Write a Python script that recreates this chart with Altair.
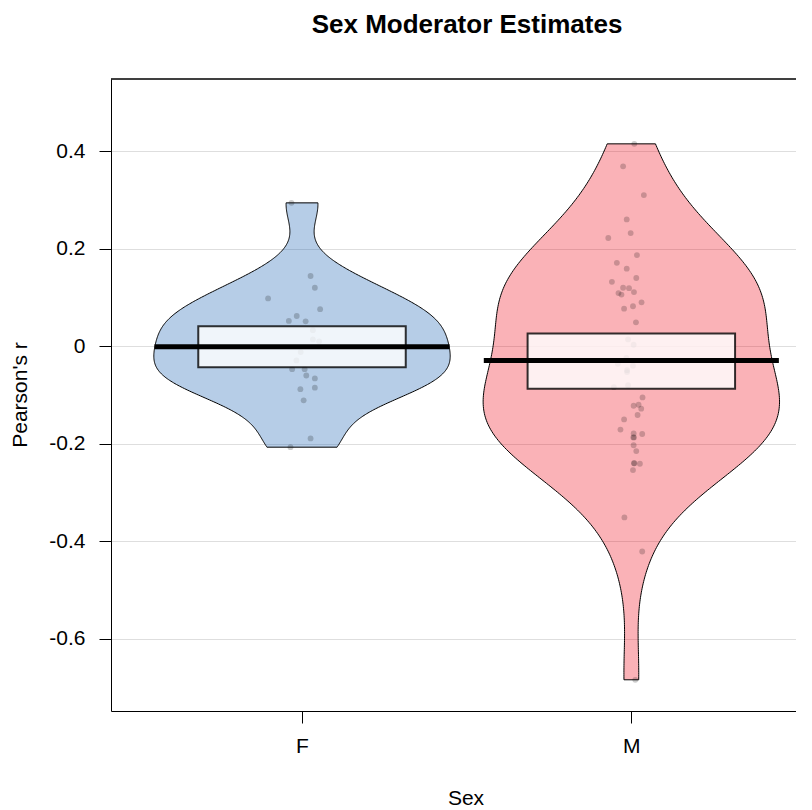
import altair as alt
import pandas as pd
import numpy as np

# ---- data ----
categories = ["F", "M"]
centers = [1, 2]
chart_title = ["Sex Moderator Estimates"]
x_title = ["Sex"]
y_title = ["Pearson's r"]

f_r = [0.294, 0.144, 0.120, 0.098, 0.076, 0.052, 0.062, 0.051, 0.033, 0.014, 0.010,
       -0.012, -0.029, -0.047, -0.047, -0.060, -0.066, -0.085, -0.088, -0.111, -0.189, -0.207]
f_jit = [-0.032, 0.026, 0.039, -0.103, 0.055, -0.040, -0.016, 0.011, 0.033, 0.033, 0.052,
         -0.004, -0.017, -0.030, 0.008, 0.013, 0.039, 0.039, -0.005, 0.005, 0.026, -0.035]

m_r = [0.415, 0.369, 0.310, 0.260, 0.232, 0.222, 0.187, 0.171, 0.159, 0.140, 0.132, 0.120,
       0.119, 0.111, 0.109, 0.106, 0.090, 0.082, 0.077, 0.049, 0.014, 0.003, -0.024, -0.036,
       -0.040, -0.049, -0.053, -0.084, -0.080, -0.105, -0.122, -0.120, -0.128, -0.141, -0.150,
       -0.171, -0.179, -0.187, -0.187, -0.180, -0.203, -0.215, -0.240, -0.240, -0.241, -0.254,
       -0.351, -0.421, -0.684]
m_jit = [0.009, -0.025, 0.038, -0.014, -0.002, -0.070, 0.017, -0.044, -0.014, 0.015, -0.059,
         -0.025, -0.007, 0.008, -0.039, -0.030, 0.031, 0.005, -0.022, 0.014, -0.010, 0.007,
         -0.015, -0.041, 0.005, -0.013, -0.013, -0.053, -0.010, 0.034, 0.007, 0.022, 0.030,
         0.019, -0.022, -0.033, 0.007, 0.008, 0.006, 0.033, 0.007, 0.015, 0.009, 0.008, 0.026,
         0.005, -0.021, 0.033, 0.012]

mean_vals = [-0.001, -0.029]
band_lo = [-0.043, -0.087]
band_hi = [0.041, 0.026]

y_ticks = [-0.6, -0.4, -0.2, 0, 0.2, 0.4]

bean_colors = ["#0C5BB0", "#EE0011"]
bw_adjust = [1.1, 1.15]

# ---- layout ----
W, H = 685, 632
XDOM = [0.42, 2.5]
YDOM = [-0.748, 0.548]
FONT = "Liberation Sans"

xscale = alt.Scale(domain=XDOM, nice=False, zero=False)
yscale = alt.Scale(domain=YDOM, nice=False, zero=False)

label_expr = " : ".join(
    [f"datum.value == {c} ? '{n}'" for c, n in zip(centers, categories)]) + " : ''"

x_axis = alt.Axis(values=centers, labelExpr=label_expr, title=None, grid=False,
                  tickSize=12, tickColor="black", domainColor="black", domainWidth=1,
                  labelFontSize=21, labelFont=FONT, labelColor="black", labelPadding=12)
y_axis = alt.Axis(values=y_ticks, labelExpr="'' + datum.value", title=None,
                  grid=True, gridColor="#DEDEDE", gridWidth=1,
                  tickSize=12, tickColor="black", domainColor="black", domainWidth=1,
                  labelFontSize=21, labelFont=FONT, labelColor="black", labelPadding=14)

pts = pd.DataFrame({
    "sex": ["F"] * len(f_r) + ["M"] * len(m_r),
    "r": f_r + m_r,
    "xpos": [centers[0] + j for j in f_jit] + [centers[1] + j for j in m_jit],
})


def nrd0(x):
    x = np.asarray(x)
    sd = np.std(x, ddof=1)
    iqr = np.quantile(x, 0.75) - np.quantile(x, 0.25)
    lo = min(sd, iqr / 1.34)
    return float(0.9 * lo * len(x) ** -0.2)


def X(field):
    return alt.X(field, scale=xscale, axis=x_axis)


def Y(field):
    return alt.Y(field, scale=yscale, axis=y_axis)


base = alt.Chart(pts)

layers = []
for cat, c, vals, col, adj in zip(categories, centers, [f_r, m_r], bean_colors, bw_adjust):
    bean = (
        base.transform_filter(alt.datum.sex == cat)
        .transform_density("r", as_=["r", "density"], bandwidth=nrd0(vals) * adj,
                           extent=[min(vals), max(vals)], steps=300)
        .transform_joinaggregate(dmax="max(density)")
        .transform_calculate(
            left=f"{c} - 0.45 * datum.density / datum.dmax",
            right=f"{c} + 0.45 * datum.density / datum.dmax",
        )
        .mark_area(orient="horizontal", fill=col, fillOpacity=0.3,
                   stroke="black", strokeWidth=1)
        .encode(y=Y("r:Q"), x=X("left:Q"), x2="right:Q")
    )
    layers.append(bean)

points = base.mark_circle(size=34, color="black", opacity=0.2).encode(
    x=X("xpos:Q"), y=Y("r:Q"),
)
layers.append(points)

summ = pd.DataFrame({
    "sex": categories, "c": centers, "mean": mean_vals, "lo": band_lo, "hi": band_hi,
})
summ["bx1"] = summ["c"] - 0.315
summ["bx2"] = summ["c"] + 0.315
summ["mx1"] = summ["c"] - 0.448
summ["mx2"] = summ["c"] + 0.448

sbase = alt.Chart(summ)
box = sbase.mark_rect(fill="white", fillOpacity=0.8, stroke="black", strokeOpacity=0.8,
                      strokeWidth=2).encode(
    x=X("bx1:Q"), x2="bx2:Q", y=Y("lo:Q"), y2="hi:Q",
)
mean_line = sbase.mark_rule(color="black", strokeWidth=5).encode(
    x=X("mx1:Q"), x2="mx2:Q", y=Y("mean:Q"),
)
top_border = sbase.mark_rule(color="black", strokeWidth=1).encode(
    y=alt.value(0), x=alt.value(0), x2=alt.value(W)
)


def text_layer(values, size, weight, x, y, angle=0, baseline="alphabetic"):
    return alt.Chart(pd.DataFrame({"t": values})).mark_text(
        font=FONT, fontSize=size, fontWeight=weight, color="black",
        align="center", baseline=baseline, angle=angle,
    ).encode(text="t:N", x=alt.value(x), y=alt.value(y))


title_text = text_layer(chart_title, 26, "bold", 356, -46)
xt = text_layer(x_title, 21, "normal", 355, 726)
yt = text_layer(y_title, 21, "normal", -90, 316, angle=270, baseline="middle")

layers += [box, mean_line, top_border, title_text, xt, yt]

chart = alt.layer(*layers).properties(
    width=W, height=H,
    autosize=alt.AutoSizeParams(type="none"),
    padding={"left": 103, "top": 71, "right": 0, "bottom": 99},
).configure_view(stroke=None)

chart.save("out.html", embed_options={"renderer": "svg", "actions": False})
